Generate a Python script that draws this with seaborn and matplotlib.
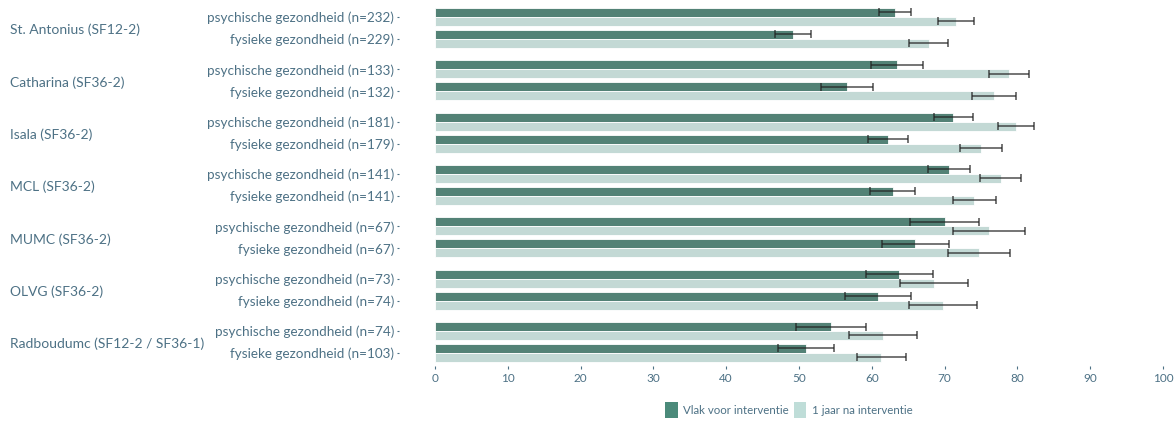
import numpy as np
import pandas as pd
import matplotlib
matplotlib.use("Agg")
import matplotlib.pyplot as plt
import matplotlib.transforms as mtransforms
from matplotlib.patches import Patch
import seaborn as sns

hospitals = ["St. Antonius (SF12-2)", "Catharina (SF36-2)", "Isala (SF36-2)", "MCL (SF36-2)",
             "MUMC (SF36-2)", "OLVG (SF36-2)", "Radboudumc (SF12-2 / SF36-1)"]
measure_labels = [
    "psychische gezondheid (n=232)", "fysieke gezondheid (n=229)",
    "psychische gezondheid (n=133)", "fysieke gezondheid (n=132)",
    "psychische gezondheid (n=181)", "fysieke gezondheid (n=179)",
    "psychische gezondheid (n=141)", "fysieke gezondheid (n=141)",
    "psychische gezondheid (n=67)", "fysieke gezondheid (n=67)",
    "psychische gezondheid (n=73)", "fysieke gezondheid (n=74)",
    "psychische gezondheid (n=74)", "fysieke gezondheid (n=103)",
]
periods = ["Vlak voor interventie", "1 jaar na interventie"]

before = [63.2, 49.2, 63.5, 56.6, 71.2, 62.2, 70.6, 62.9, 70.0, 66.0, 63.8, 60.9, 54.4, 50.9]
before_err = [2.2, 2.45, 3.6, 3.6, 2.65, 2.75, 2.9, 3.1, 4.75, 4.65, 4.55, 4.55, 4.85, 3.85]
after = [71.6, 67.8, 78.8, 76.8, 79.8, 75.0, 77.7, 74.1, 76.1, 74.7, 68.5, 69.8, 61.5, 61.3]
after_err = [2.5, 2.7, 2.75, 3.0, 2.45, 2.95, 2.85, 3.0, 5.0, 4.3, 4.65, 4.65, 4.65, 3.35]

x_ticks = [0, 10, 20, 30, 40, 50, 60, 70, 80, 90, 100]

dark = "#4b8a7a"
light = "#bfddd8"
txt = "#4d7185"

# row positions: groups of two rows with a wider gap between groups
group_step = 2.386
pos = []
for g in range(len(hospitals)):
    pos += [g * group_step, g * group_step + 1]

df = pd.DataFrame({
    "pos": pos * 2,
    "value": before + after,
    "err": before_err + after_err,
    "period": [periods[0]] * len(before) + [periods[1]] * len(after),
})

sns.set_theme(style="white")
plt.rcParams["font.family"] = ["Lato", "DejaVu Sans"]

fig = plt.figure(figsize=(11.76, 4.22), dpi=100)
ax = fig.add_axes([435 / 1176, 1 - 365 / 422, (1163 - 435) / 1176, (365 - 6) / 422])

sns.barplot(data=df, x="value", y="pos", hue="period", orient="h", native_scale=True,
            width=0.82, dodge=True, palette=[dark, light], hue_order=periods,
            edgecolor="white", linewidth=0.6, legend=False, ax=ax)

# error bars centred on each drawn bar
errs_lookup = {}
for v, e in zip(df["value"], df["err"]):
    errs_lookup.setdefault(round(v, 3), []).append(e)
for p in list(ax.patches):
    w = p.get_width()
    yc = p.get_y() + p.get_height() / 2
    key = round(w, 3)
    if key in errs_lookup and errs_lookup[key]:
        e = errs_lookup[key].pop(0)
        ax.errorbar(w, yc, xerr=e, fmt="none", ecolor="#222222", alpha=0.8,
                    elinewidth=1.1, capsize=3.0, capthick=1.1)

ax.set_xlim(0, 100)
ax.set_ylim(pos[-1] + 0.55, -0.5)
ax.set_xticks(x_ticks)
ax.set_xticklabels([str(t) for t in x_ticks])
ax.set_yticks(pos)
ax.set_yticklabels(measure_labels)
for s in ax.spines.values():
    s.set_visible(False)
ax.spines["left"].set_position(("outward", 26))
ax.spines["bottom"].set_position(("outward", 1))
ax.tick_params(axis="y", which="major", left=True, length=1.6, width=0.8, color=txt,
               pad=2, labelsize=9.7, labelcolor=txt, direction="out")
ax.tick_params(axis="x", which="major", bottom=True, length=2.5, width=0.8, color=txt,
               pad=2.5, labelsize=8.5, labelcolor=txt, direction="out")
ax.set_xlabel("")
ax.set_ylabel("")
ax.grid(False)

# hospital labels at the centre of each group
trans = mtransforms.blended_transform_factory(fig.transFigure, ax.transData)
for g, h in enumerate(hospitals):
    ax.text(10 / 1176, g * group_step + 0.6, h, transform=trans, ha="left", va="center",
            fontsize=10, color=txt)

handles = [Patch(facecolor=dark, edgecolor="none"), Patch(facecolor=light, edgecolor="none")]
fig.legend(handles, periods, loc="center", bbox_to_anchor=(789 / 1176, 1 - 410 / 422), ncol=2,
           frameon=False, fontsize=8.3, labelcolor=txt, handlelength=1.1, handleheight=1.7,
           handletextpad=0.5, columnspacing=0.4)

fig.savefig("out.png", dpi=100)
